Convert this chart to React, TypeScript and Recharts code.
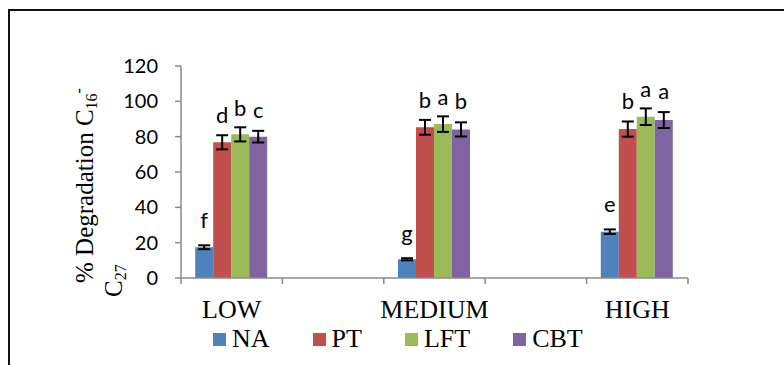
import React from "react";
import { BarChart, Bar, XAxis, YAxis, ErrorBar, LabelList } from "recharts";

// 5 bands: the empty ones keep the gaps between the three groups (as in the Excel original)
const categories = ["LOW", "", "MEDIUM", "", "HIGH"];

const naValues = [17.4, null, 10.6, null, 26.2];
const naErr = [1.1, null, 0.6, null, 1.3];
const naLetters = ["f", "", "g", "", "e"];

const ptValues = [76.8, null, 85.3, null, 84.3];
const ptErr = [4.0, null, 4.2, null, 4.3];
const ptLetters = ["d", "", "b", "", "b"];

const lftValues = [81.3, null, 87.1, null, 91.3];
const lftErr = [4.0, null, 4.4, null, 4.7];
const lftLetters = ["b", "", "a", "", "a"];

const cbtValues = [80.0, null, 84.1, null, 89.4];
const cbtErr = [3.3, null, 4.0, null, 4.5];
const cbtLetters = ["c", "", "b", "", "a"];

const yTicks = [0, 20, 40, 60, 80, 100, 120];

const series = [
  { key: "NA", color: "#4F81BD", values: naValues, err: naErr, letters: naLetters, gap: 17 },
  { key: "PT", color: "#C0504D", values: ptValues, err: ptErr, letters: ptLetters, gap: 12 },
  { key: "LFT", color: "#9BBB59", values: lftValues, err: lftErr, letters: lftLetters, gap: 11 },
  { key: "CBT", color: "#8064A2", values: cbtValues, err: cbtErr, letters: cbtLetters, gap: 13 },
];

const data = categories.map((name, i) => {
  const row: Record<string, string | number | null> = { name, idx: i };
  series.forEach((s) => {
    row[s.key] = s.values[i];
    row[s.key + "Err"] = s.err[i];
  });
  return row;
});

const W = 784;
const H = 365;
const TOP = 66;
const LEFT = 181;
const PLOT_W = 507;
const PLOT_H = 212;
const AXIS_COLOR = "#898989";
const SERIF = "'Liberation Serif', 'Times New Roman', serif";
const SANS = "Lato, 'Open Sans', sans-serif";

const band = PLOT_W / categories.length;

function XTick(props: any) {
  const { x, payload, index } = props;
  const axisY = TOP + PLOT_H;
  const last = index === categories.length - 1;
  return (
    <g>
      <line x1={x - band / 2} x2={x - band / 2} y1={axisY} y2={axisY + 6} stroke={AXIS_COLOR} strokeWidth={1.5} />
      {last && (
        <line x1={x + band / 2} x2={x + band / 2} y1={axisY} y2={axisY + 6} stroke={AXIS_COLOR} strokeWidth={1.5} />
      )}
      {payload.value && (
        <text x={x} y={axisY + 40} textAnchor="middle" fontFamily={SERIF} fontSize={26} fill="#000">
          {payload.value}
        </text>
      )}
    </g>
  );
}

function YLabel() {
  return (
    <g fontFamily={SERIF} fill="#000">
      <text transform="translate(93, 283) rotate(-90)" fontSize={25}>
        % Degradation C
        <tspan fontSize={16} dy={4}>16</tspan>
        <tspan fontSize={16} dy={-13}>-</tspan>
      </text>
      <text transform="translate(122, 297) rotate(-90)" fontSize={25}>
        C
        <tspan fontSize={16} dy={4}>27</tspan>
      </text>
    </g>
  );
}

// significance letter sits above the error bar cap; label value is the row index
const letterRenderer = (s: (typeof series)[number]) => (props: any) => {
  const { x, y, width, height, value } = props;
  const i = Number(value);
  const v = s.values[i];
  const e = s.err[i];
  const letter = s.letters[i];
  if (!letter || v == null || e == null) return null;
  const errTop = y - (e * height) / v;
  return (
    <text x={x + width / 2} y={errTop - s.gap} textAnchor="middle" fontFamily={SANS} fontSize={22} fill="#000">
      {letter}
    </text>
  );
};

export default function App() {
  return (
    <div
      style={{
        position: "absolute",
        left: 0,
        top: 0,
        width: W,
        height: H,
        overflow: "hidden",
        background: "#fff",
      }}
    >
      {/* chart frame, cut by the image edge on right and bottom */}
      <div
        style={{
          position: "absolute",
          left: 8,
          top: 9,
          width: 800,
          height: 400,
          border: "2px solid #111",
        }}
      />
      <div style={{ position: "absolute", left: 0, top: 0 }}>
        <BarChart
          width={W}
          height={H}
          data={data}
          margin={{ top: TOP, right: W - LEFT - PLOT_W, bottom: 27, left: 0 }}
          barCategoryGap="14%"
          barGap={0}
        >
          <XAxis
            dataKey="name"
            height={60}
            interval={0}
            tickLine={false}
            tickSize={6}
            tickMargin={0}
            axisLine={{ stroke: AXIS_COLOR, strokeWidth: 1.5 }}
            tick={<XTick />}
          />
          <YAxis
            width={LEFT}
            domain={[0, 120]}
            ticks={yTicks}
            interval={0}
            tickSize={6}
            tickMargin={17}
            axisLine={{ stroke: AXIS_COLOR, strokeWidth: 1.5 }}
            tickLine={{ stroke: AXIS_COLOR, strokeWidth: 1.5 }}
            tick={{ fill: "#000", fontSize: 20, fontFamily: SANS }}
            label={YLabel}
          />
          {series.map((s) => (
            <Bar key={s.key} dataKey={s.key} fill={s.color} isAnimationActive={false}>
              <ErrorBar dataKey={s.key + "Err"} width={6} strokeWidth={2} stroke="#000" />
              <LabelList dataKey="idx" content={letterRenderer(s)} />
            </Bar>
          ))}
        </BarChart>
      </div>
      {/* legend */}
      <div
        style={{
          position: "absolute",
          left: 213,
          top: 326,
          display: "flex",
          alignItems: "center",
          gap: 43,
          fontFamily: SERIF,
          fontSize: 26,
          lineHeight: "26px",
          color: "#000",
        }}
      >
        {series.map((s) => (
          <div key={s.key} style={{ display: "flex", alignItems: "center" }}>
            <span style={{ width: 13, height: 13, background: s.color, marginRight: 6, display: "inline-block" }} />
            <span>{s.key}</span>
          </div>
        ))}
      </div>
    </div>
  );
}
